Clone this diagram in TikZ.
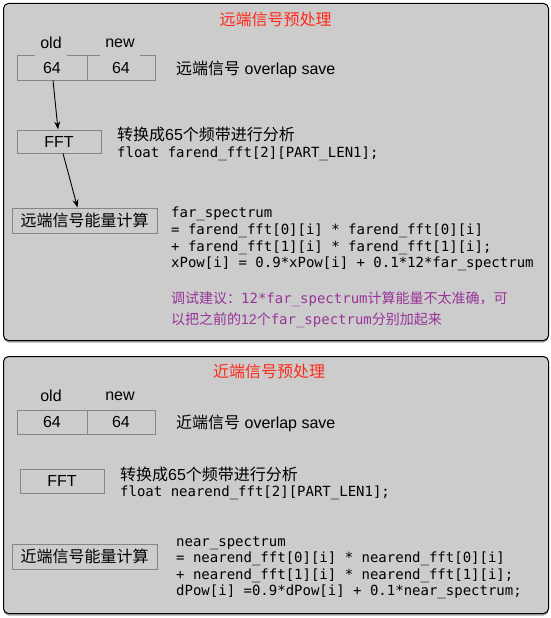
\documentclass[tikz,border=0pt]{standalone}
\usepackage{fontspec}
\setmainfont{Liberation Sans}
\setmonofont{DejaVu Sans Mono}
\newfontfamily\cjk{Noto Sans CJK SC}
\usetikzlibrary{arrows.meta,shadows}
\definecolor{panelgray}{HTML}{CCCCCC}
\definecolor{cellgray}{HTML}{858585}
\definecolor{titlered}{HTML}{FF2A1A}
\definecolor{tippurple}{HTML}{993399}
\tikzset{
  panel/.style={draw=black, line width=1pt, fill=panelgray, rounded corners=5pt, anchor=north west, inner sep=0pt,
    drop shadow={shadow xshift=0pt, shadow yshift=-2pt, opacity=0.5, fill=black!70}},
  titletext/.style={text=titlered, font=\cjk\fontsize{16}{18}\selectfont, inner sep=0pt},
  lbl/.style={font=\fontsize{16}{18}\selectfont, inner sep=0pt},
  lblgap/.style={lbl, fill=panelgray, minimum height=28pt, minimum width=32pt},
  cell/.style={draw=cellgray, line width=1pt, font=\fontsize{16}{18}\selectfont, inner sep=0pt},
  txt/.style={font=\fontsize{16}{18}\selectfont, inner sep=0pt, anchor=west},
  code/.style={font=\ttfamily\fontsize{14}{16.6}\selectfont, inner sep=0pt, align=left, anchor=north west},
  tip/.style={text=tippurple, font=\fontsize{14}{21}\selectfont, inner sep=0pt, align=left, anchor=north west},
  arr/.style={draw=black, line width=0.9pt, -{Stealth[length=8pt,width=6pt]}}
}
\begin{document}
\begin{tikzpicture}[x=1pt,y=-1pt]
\useasboundingbox (0,0) rectangle (551,618);
% ---------- top panel ----------
\node[panel, minimum width=545pt, minimum height=337pt] (farPanel) at (3,3) {};
\node[titletext] (farTitle) at (275.5,19) {远端信号预处理};
\node[cell, minimum width=70pt, minimum height=24pt] (farOld) at (52,68) {64};
\node[cell, minimum width=68pt, minimum height=24pt] (farNew) at (121,68) {64};
\node[lblgap] (farOldLbl) at (51,43) {old};
\node[lblgap, minimum width=40pt] (farNewLbl) at (120,43) {new};
\node[txt] (farSave) at (176,69) {{\cjk 远端信号} overlap save};
\node[cell, minimum width=84pt, minimum height=23pt] (farFFT) at (59,141.5) {FFT};
\node[txt] (farFFTtxt) at (117,134.5) {{\cjk 转换成}65{\cjk 个频带进行分析}};
\node[txt, font=\ttfamily\fontsize{14}{17}\selectfont] (farFFTcode) at (117,153.5) {float farend\_fft[2][PART\_LEN1];};
\node[cell, minimum width=145pt, minimum height=25pt, font=\cjk\fontsize{16}{18}\selectfont] (farEn) at (84.5,220.5) {远端信号能量计算};
\node[code] (farCode) at (171,207) {far\_spectrum\\= farend\_fft[0][i] * farend\_fft[0][i]\\+ farend\_fft[1][i] * farend\_fft[1][i];\\xPow[i] = 0.9*xPow[i] + 0.1*12*far\_spectrum};
\node[tip] (farTip) at (171,291) {{\cjk 调试建议：}{\ttfamily 12*far\_spectrum}{\cjk 计算能量不太准确，可}\\{\cjk 以把之前的}12{\cjk 个}{\ttfamily far\_spectrum}{\cjk 分别加起来}};
\draw[arr] ([xshift=1pt]farOld.south) -- ([xshift=-1pt]farFFT.north);
\draw[arr] ([xshift=4pt]farFFT.south) -- ([xshift=-7pt]farEn.north);
% ---------- bottom panel ----------
\node[panel, minimum width=545pt, minimum height=257pt] (nearPanel) at (3,356) {};
\node[titletext] (nearTitle) at (269,371) {近端信号预处理};
\node[cell, minimum width=70pt, minimum height=24pt] (nearOld) at (52,422) {64};
\node[cell, minimum width=68pt, minimum height=24pt] (nearNew) at (121,422) {64};
\node[lbl] (nearOldLbl) at (51,396) {old};
\node[lbl] (nearNewLbl) at (120,396) {new};
\node[txt] (nearSave) at (176,423) {{\cjk 近端信号} overlap save};
\node[cell, minimum width=84pt, minimum height=24pt] (nearFFT) at (62,481) {FFT};
\node[txt] (nearFFTtxt) at (120,474) {{\cjk 转换成}65{\cjk 个频带进行分析}};
\node[txt, font=\ttfamily\fontsize{14}{17}\selectfont] (nearFFTcode) at (120,493) {float nearend\_fft[2][PART\_LEN1];};
\node[cell, minimum width=145pt, minimum height=25pt, font=\cjk\fontsize{16}{18}\selectfont] (nearEn) at (84.5,556.5) {近端信号能量计算};
\node[code] (nearCode) at (176,536) {near\_spectrum\\= nearend\_fft[0][i] * nearend\_fft[0][i]\\+ nearend\_fft[1][i] * nearend\_fft[1][i];\\dPow[i] =0.9*dPow[i] + 0.1*near\_spectrum;};
\end{tikzpicture}
\end{document}
